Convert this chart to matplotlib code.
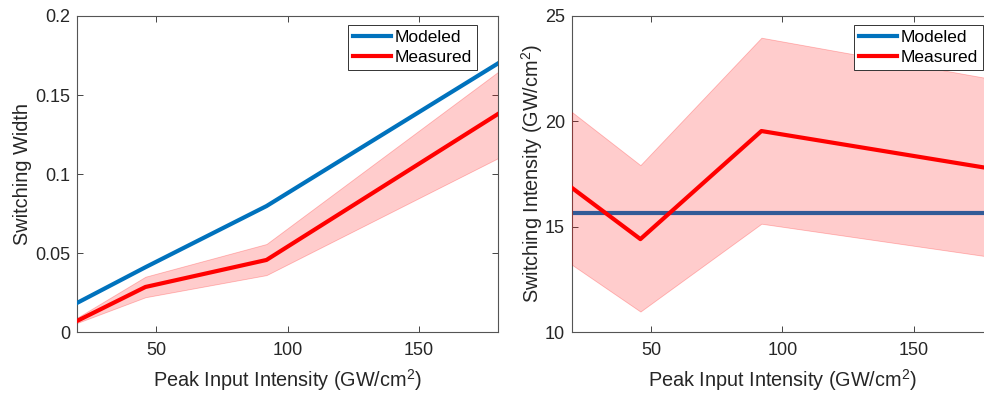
import numpy as np
import matplotlib
matplotlib.use("Agg")
import matplotlib.pyplot as plt

plt.rcParams['font.family'] = ['Liberation Sans', 'DejaVu Sans']
plt.rcParams['mathtext.fontset'] = 'custom'
plt.rcParams['mathtext.rm'] = 'Liberation Sans'
plt.rcParams['mathtext.it'] = 'Liberation Sans'

# data
x = [20, 46, 92, 180]

width_model = [0.0184, 0.041, 0.0797, 0.170]
width_meas = [0.007, 0.0285, 0.0456, 0.138]
width_lo = [0.0057, 0.022, 0.036, 0.110]
width_hi = [0.0090, 0.035, 0.0557, 0.1646]

inten_model = [15.65, 15.65, 15.65, 15.65]
inten_meas = [16.84, 14.41, 19.54, 17.74]
inten_lo = [13.19, 10.97, 15.14, 13.55]
inten_hi = [20.44, 17.92, 23.97, 22.0]

blue = (0, 0.447, 0.741)
txt = '#262626'

fig = plt.figure(figsize=(9.84, 3.96), dpi=100)
ax1 = fig.add_axes([0.0783, 0.1616, 0.4278, 0.798])
ax2 = fig.add_axes([0.5813, 0.1616, 0.4278, 0.798])

def style(ax):
    ax.tick_params(direction='in', top=True, right=True, labelsize=13,
                   colors=txt, length=4.5, width=0.6)
    ax.tick_params(axis='x', pad=7)
    ax.tick_params(axis='y', pad=5)
    for s in ax.spines.values():
        s.set_color('#555555')
        s.set_linewidth(0.8)
    ax.set_xlim(20, 180)
    ax.set_xticks([50, 100, 150])
    ax.set_xlabel('Peak Input Intensity (GW/cm$^2$)', fontsize=14.3,
                  color=txt, labelpad=6)

# left panel
ax1.plot(x, width_model, color=blue, lw=3, label='Modeled', zorder=3)
ax1.fill_between(x, width_lo, width_hi, facecolor=(1, 0, 0, 0.2),
                 edgecolor=(1, 0, 0, 0.25), lw=0.6, zorder=2)
ax1.plot(x, width_meas, color='red', lw=3, label='Measured', zorder=4)
ax1.set_ylim(0, 0.2)
ax1.set_yticks([0, 0.05, 0.1, 0.15, 0.2])
ax1.set_yticklabels(['0', '0.05', '0.1', '0.15', '0.2'])
ax1.set_ylabel('Switching Width', fontsize=14.3, color=txt, labelpad=2)
style(ax1)

# right panel
ax2.plot(x, inten_model, color=blue, lw=3, label='Modeled', zorder=2)
ax2.fill_between(x, inten_lo, inten_hi, facecolor=(1, 0, 0, 0.2),
                 edgecolor=(1, 0, 0, 0.25), lw=0.6, zorder=3)
ax2.plot(x, inten_meas, color='red', lw=3, label='Measured', zorder=4)
ax2.set_ylim(10, 25)
ax2.set_yticks([10, 15, 20, 25])
ax2.set_ylabel('Switching Intensity (GW/cm$^2$)', fontsize=14.3, color=txt,
               labelpad=0)
style(ax2)

for ax, xr in [(ax1, 477 / 984), (ax2, 983 / 984)]:
    leg = ax.legend(loc='upper right', bbox_to_anchor=(xr, 1 - 25 / 396),
                    bbox_transform=fig.transFigure, fontsize=12.5,
                    fancybox=False, framealpha=1, edgecolor='#333333',
                    handlelength=2.2, handletextpad=0.2, borderpad=0.3,
                    labelspacing=0.25, borderaxespad=0)
    leg.get_frame().set_linewidth(0.7)
    for t in leg.get_texts():
        t.set_color('black')

fig.savefig('out.png', dpi=100)
